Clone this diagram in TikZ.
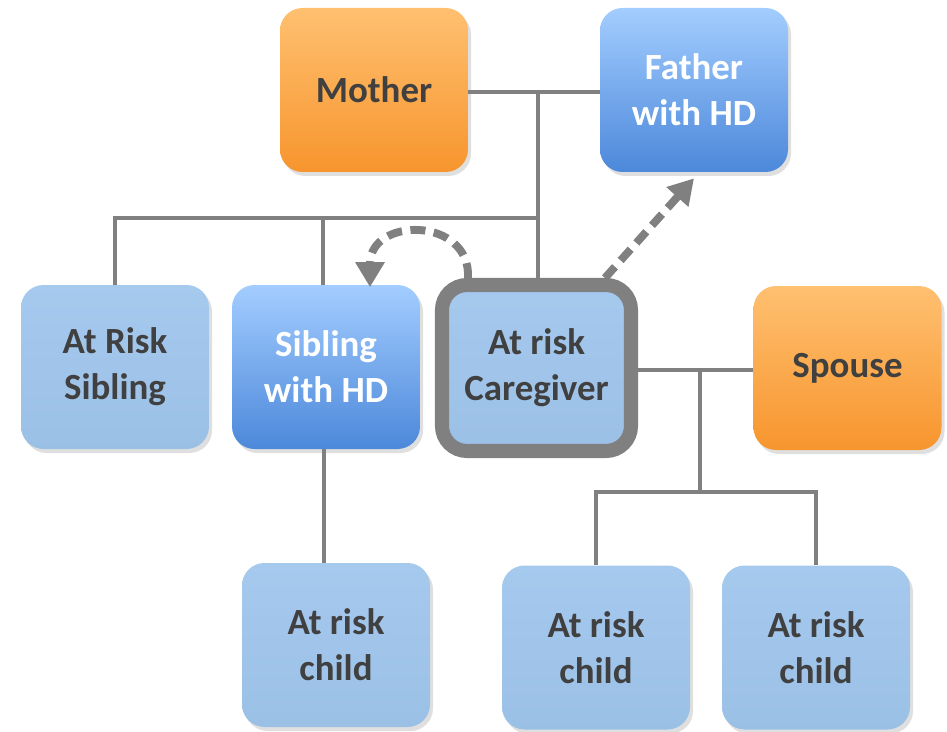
\documentclass[tikz,border=0pt]{standalone}
\usepackage{fontspec}
\setmainfont{Carlito}
\usetikzlibrary{positioning}
\usetikzlibrary{arrows.meta}
\usetikzlibrary{shadows}
\usetikzlibrary{calc}

\definecolor{txtgray}{HTML}{404040}
\definecolor{linegray}{HTML}{808080}
\definecolor{paleblue}{HTML}{9BC0E6}
\definecolor{paleblueTop}{HTML}{A6C9EE}
\definecolor{hdTop}{HTML}{A3CDFF}
\definecolor{hdBot}{HTML}{4C88DA}
\definecolor{orTop}{HTML}{FFC070}
\definecolor{orBot}{HTML}{F7952E}

\begin{document}
\begin{tikzpicture}[
    box/.style={rectangle, rounded corners=0.45cm, minimum width=3.76cm, minimum height=3.28cm,
                align=center, font=\fontsize{21}{26}\selectfont\bfseries,
                drop shadow={opacity=0.25, shadow xshift=0.06cm, shadow yshift=-0.08cm}},
    riskbox/.style={box, top color=paleblueTop, bottom color=paleblue, text=txtgray},
    hdbox/.style={box, top color=hdTop, bottom color=hdBot, text=white},
    inlawbox/.style={box, top color=orTop, bottom color=orBot, text=txtgray},
    link/.style={draw=linegray, line width=2pt},
    dashlink/.style={draw=linegray, line width=4.5pt, dash pattern=on 0.3cm off 0.17cm,
                     -{Triangle[length=0.5cm, width=0.56cm]}}
]
    \useasboundingbox (0,0) rectangle (18.94,-14.64);

    % parents
    \node[inlawbox] (mother) at (7.48,-1.8) {Mother};
    \node[hdbox] (father) at (13.88,-1.8) {Father\\with HD};

    % siblings, caregiver and spouse
    \node[riskbox] (risksib) at (2.3,-7.34) {At Risk\\Sibling};
    \node[hdbox] (sibhd) at (6.52,-7.34) {Sibling\\with HD};
    \node[riskbox, draw=linegray, line width=8pt, minimum width=3.78cm, minimum height=3.32cm,
          rounded corners=0.5cm] (carer) at (10.73,-7.36) {At risk\\Caregiver};
    \node[inlawbox] (spouse) at (16.95,-7.36) {Spouse};

    % children
    \node[riskbox] (kid1) at (6.72,-12.9) {At risk\\child};
    \node[riskbox] (kid2) at (11.92,-12.95) {At risk\\child};
    \node[riskbox] (kid3) at (16.32,-12.95) {At risk\\child};

    % family lines
    \coordinate (pj) at (10.76,-1.84);
    \coordinate (sj) at (10.76,-4.36);
    \coordinate (cj) at (14.0,-7.4);
    \coordinate (kj) at (14.0,-9.84);

    \draw[link] (mother.east |- pj) -- (father.west |- pj);
    \draw[link] (pj) -- (pj |- carer.north);
    \draw[link] (risksib.north) |- (sj);
    \draw[link] ([xshift=-0.06cm]sibhd.north |- sj) -- ([xshift=-0.06cm]sibhd.north);
    \draw[link] (carer.east |- cj) -- (spouse.west |- cj);
    \draw[link] (cj) -- (kj);
    \draw[link] (kid2.north) |- (kj) -| (kid3.north);
    \draw[link] ([xshift=-0.04cm]sibhd.south) -- ([xshift=-0.04cm]sibhd.south |- kid1.north);

    % care arrows
    \draw[dashlink] ([xshift=-1.37cm]carer.north) .. controls (9.42,-4.33) and (7.4,-4.33) .. ([xshift=0.88cm,yshift=-0.05cm]sibhd.north);
    \draw[dashlink] ([xshift=1.37cm]carer.north) -- ([yshift=-0.12cm]father.south);
\end{tikzpicture}
\end{document}
